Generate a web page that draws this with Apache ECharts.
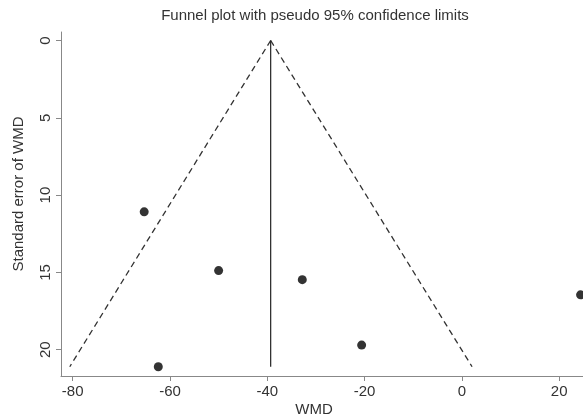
<!DOCTYPE html>
<html>
<head>
<meta charset="utf-8">
<script src="https://cdn.jsdelivr.net/npm/echarts@6/dist/echarts.min.js"></script>
<style>html,body{margin:0;padding:0;background:#fff;}#c{width:583px;height:418px;}</style>
</head>
<body>
<div id="c"></div>
<script>
// Study estimates
const wmd = [-65.3, -50.0, -32.8, -62.4, -20.6, 24.4];
const seWmd = [11.08, 14.88, 15.47, 21.1, 19.7, 16.45];
// Pooled estimate and funnel (pseudo 95% limits)
const pooled = -39.3;
const seMax = 21.1;
const funnelLeftX = [-39.3, -80.6];
const funnelRightX = [-39.3, 2.1];
const funnelY = [0, 21.1];
// Tick labels
const xTicks = [-80, -60, -40, -20, 0, 20];
const yTicks = [0, 5, 10, 15, 20];

const font = 'Liberation Sans, Arial, sans-serif';
const txt = '#333';
const chart = echarts.init(document.getElementById('c'), null, {renderer: 'canvas'});
chart.setOption({
  animation: false,
  backgroundColor: '#fff',
  title: {
    text: 'Funnel plot with pseudo 95% confidence limits',
    left: 310, top: 3, textAlign: 'center',
    textStyle: {fontFamily: font, fontSize: 15, fontWeight: 'normal', color: txt}
  },
  grid: {left: 61, right: 0, top: 32, bottom: 42, containLabel: false},
  xAxis: {
    type: 'value', min: -82.4, max: 24.9, position: 'bottom',
    splitLine: {show: false},
    axisLine: {show: true, onZero: false, lineStyle: {color: '#888', width: 1}},
    axisTick: {show: true, length: 5, customValues: xTicks, lineStyle: {color: '#888'}},
    axisLabel: {customValues: xTicks, fontFamily: font, fontSize: 15, color: txt, margin: 8},
    name: ''
  },
  yAxis: {
    type: 'value', inverse: true, min: -0.55, max: 21.7, position: 'left',
    splitLine: {show: false},
    axisLine: {show: true, onZero: false, lineStyle: {color: '#888', width: 1}},
    axisTick: {show: true, length: 5, customValues: yTicks, lineStyle: {color: '#888'}},
    axisLabel: {customValues: yTicks, rotate: 90, fontFamily: font, fontSize: 15, color: txt, margin: 8},
    name: ''
  },
  graphic: [{
    type: 'text', x: 314, y: 410,
    style: {text: 'WMD', font: '15px ' + font, fill: txt, align: 'center', verticalAlign: 'middle'}
  }, {
    type: 'text', x: 19, y: 194, rotation: Math.PI / 2,
    style: {text: 'Standard error of WMD', font: '15px ' + font, fill: txt, align: 'center', verticalAlign: 'middle'}
  }],
  series: [
    {
      type: 'line', data: funnelLeftX.map((x, i) => [x, funnelY[i]]),
      symbol: 'none', lineStyle: {color: '#333', width: 1.3, type: [6, 4]}
    },
    {
      type: 'line', data: funnelRightX.map((x, i) => [x, funnelY[i]]),
      symbol: 'none', lineStyle: {color: '#333', width: 1.3, type: [6, 4]}
    },
    {
      type: 'line', data: [[pooled, 0], [pooled, seMax]],
      symbol: 'none', lineStyle: {color: '#222', width: 1.2}
    },
    {
      type: 'scatter', data: wmd.map((x, i) => [x, seWmd[i]]),
      symbol: 'circle', symbolSize: 9, clip: false,
      itemStyle: {color: '#000'}
    }
  ]
});
</script>
</body>
</html>
